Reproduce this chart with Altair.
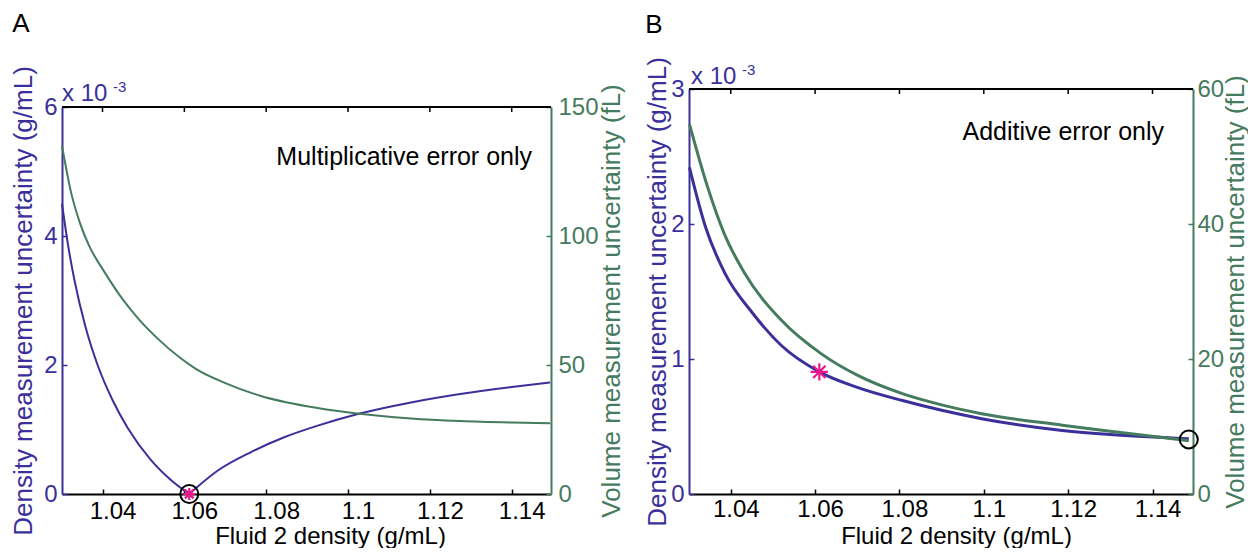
import altair as alt
import pandas as pd

BLUE = "#3b309b"
GREEN = "#457b5e"
PINK = "#e8178a"
FONT = "Liberation Sans"

X_DOMAIN = [1.0301, 1.1496]
X_TICKS = [1.04, 1.06, 1.08, 1.10, 1.12, 1.14]

# ---------------- Panel A : multiplicative error only ----------------
A_blue_x = [1.0301, 1.0316, 1.0331, 1.0358, 1.0388, 1.0425, 1.0462, 1.0518, 1.0565, 1.0612,
            1.0612, 1.0681, 1.0763, 1.0844, 1.0926, 1.1024, 1.1154, 1.1274, 1.14, 1.1494]
A_blue_y = [4.5, 3.85, 3.33, 2.6, 2.0, 1.45, 1.02, 0.53, 0.23, 0.0,
            0.0, 0.36, 0.65, 0.88, 1.06, 1.24, 1.42, 1.55, 1.66, 1.73]   # x 10^-3 g/mL
A_blue_branch = ["l"] * 10 + ["r"] * 10
A_green_x = [1.0301, 1.0323, 1.0345, 1.0368, 1.0405, 1.0449, 1.0490, 1.0531, 1.0592,
             1.0628, 1.07, 1.0787, 1.09, 1.1007, 1.1154, 1.1274, 1.14, 1.1494]
A_green_y = [135, 117, 105, 96, 86, 75.5, 67.5, 60.8, 52.5,
             48.5, 43, 38, 34, 31.5, 29.3, 28.3, 27.7, 27.4]             # fL
A_left_ticks = [0, 2, 4, 6]
A_right_ticks = [0, 50, 100, 150]
A_circle_x, A_circle_y = [1.0612], [0.0]
A_star_x, A_star_y = [1.0612], [0.0]

# ---------------- Panel B : additive error only ----------------
B_blue_x = [1.0302, 1.034, 1.0386, 1.0452, 1.052, 1.061, 1.07, 1.0805,
            1.09, 1.0995, 1.1186, 1.13, 1.1486]
B_blue_y = [2.42, 1.98, 1.636, 1.339, 1.10, 0.905, 0.79, 0.694,
            0.62, 0.558, 0.471, 0.44, 0.409]
B_blue_branch = ["l"] * 13
B_green_x = [1.0302, 1.0345, 1.0385, 1.0433, 1.0519, 1.0614, 1.07, 1.0805,
             1.09, 1.0995, 1.1186, 1.13, 1.1486]
B_green_y = [54.8, 45.5, 38.5, 32.7, 25.8, 20.8, 17.6, 14.9, 13.2, 11.9, 10.2, 9.3, 7.9]
B_left_ticks = [0, 1, 2, 3]
B_right_ticks = [0, 20, 40, 60]
B_circle_x, B_circle_y = [1.1486], [0.404]
B_star_x, B_star_y = [1.061], [0.905]

STAR = "M-1,0L1,0M0,-1L0,1M-0.71,-0.71L0.71,0.71M-0.71,0.71L0.71,-0.71"
INWARD = alt.ExprRef(expr="-5")


def text_layer(txt, x, y, size, color="black", align="left"):
    return alt.Chart(pd.DataFrame({"t": [txt]})).mark_text(
        align=align, baseline="middle", font=FONT, fontSize=size, color=color
    ).encode(text="t:N", x=alt.value(x), y=alt.value(y))


def panel(c):
    W, H, top = c["W"], c["H"], c["top"]
    xs = alt.Scale(domain=X_DOMAIN, nice=False, zero=False)

    def yl():
        return alt.Scale(domain=[0, c["lmax"]], nice=False, zero=False, range=[H, top])

    yr = alt.Scale(domain=[0, c["rmax"]], nice=False, zero=False, range=[H, top])

    xaxis = alt.Axis(orient="bottom", values=X_TICKS, format=".2~f", ticks=True,
                     tickSize=INWARD, tickColor="black", tickWidth=1.5, grid=False,
                     domainColor="black", domainWidth=2, labelColor="black", labelFont=FONT,
                     labelFontSize=24, labelPadding=c["xlabpad"], labelOffset=c["xlabdx"],
                     labelFlush=False, labelOverlap=False,
                     title="Fluid 2 density (g/mL)", titleFont=FONT, titleFontSize=24,
                     titleFontWeight="normal", titleColor="black", titleX=c["xtitleX"], titleY=42,
                     titleAlign="center", titleBaseline="middle")
    laxis = alt.Axis(orient="left", values=c["lticks"], format="d", ticks=True,
                     tickSize=INWARD, tickColor=BLUE, tickWidth=1.5, grid=False,
                     domainColor=BLUE, domainWidth=2, labelColor=BLUE, labelFont=FONT,
                     labelFontSize=24, labelPadding=10, labelFlush=False, labelOverlap=False,
                     title="Density measurement uncertainty (g/mL)", titleFont=FONT,
                     titleFontSize=26, titleFontWeight="normal", titleColor=BLUE, titleAngle=270,
                     titleX=c["ltitleX"], titleY=(H + top) / 2, titleAlign="center",
                     titleBaseline="middle")
    raxis = alt.Axis(orient="right", values=c["rticks"], format="d", ticks=True,
                     tickSize=INWARD, tickColor=GREEN, tickWidth=1.5, grid=False,
                     domainColor=GREEN, domainWidth=2, labelColor=GREEN, labelFont=FONT,
                     labelFontSize=24, labelPadding=c["rlabpad"] + 5, labelFlush=False,
                     labelOverlap=False,
                     title="Volume measurement uncertainty (fL)", titleFont=FONT,
                     titleFontSize=26, titleFontWeight="normal", titleColor=GREEN, titleAngle=270,
                     titleX=c["rtitleX"], titleY=(H + top) / 2, titleAlign="center",
                     titleBaseline="middle")

    blue = alt.Chart(pd.DataFrame({"x": c["bx"], "y": c["by"], "b": c["bb"]})).mark_line(
        color=BLUE, strokeWidth=c["sw"], interpolate="monotone").encode(
        x=alt.X("x:Q", scale=xs, axis=xaxis), y=alt.Y("y:Q", scale=yl(), axis=laxis),
        detail="b:N")

    # top edge of the box, drawn on the data scales
    frame = alt.Chart(pd.DataFrame({"x": X_DOMAIN, "y": [c["lmax"], c["lmax"]]})).mark_line(
        color="black", strokeWidth=2).encode(x="x:Q", y="y:Q")
    # short inward ticks hanging from the top edge
    d = c["lmax"] * 5.0 / (H - top)
    tx, ty, tg = [], [], []
    for i, t in enumerate(X_TICKS):
        tx += [t, t]
        ty += [c["lmax"], c["lmax"] - d]
        tg += [i, i]
    topticks = alt.Chart(pd.DataFrame({"x": tx, "y": ty, "g": tg})).mark_line(
        color="black", strokeWidth=1.5).encode(x="x:Q", y="y:Q", detail="g:N")

    left = alt.layer(
        blue, frame, topticks,
        text_layer(c["letter"], c["letter_x"], c["letter_y"], 26, align="center"),
        text_layer("x 10", c["exp_x"], c["exp_y"], 24, color=BLUE),
        text_layer("-3", c["exp_x"] + 51, c["exp_y"] - 7, 15, color=BLUE),
        text_layer(c["note"], c["note_x"], c["note_y"], 25, align="right"),
    )

    right = alt.Chart(pd.DataFrame({"x": c["gx"], "y": c["gy"]})).mark_line(
        color=GREEN, strokeWidth=c["sw"], interpolate="monotone").encode(
        x="x:Q", y=alt.Y("y:Q", scale=yr, axis=raxis))

    star = alt.Chart(pd.DataFrame({"x": c["sx"], "y": c["sy"]})).mark_point(
        shape=STAR, size=c["star_size"], filled=False, stroke=PINK, strokeWidth=2.2,
        opacity=1).encode(x="x:Q", y=alt.Y("y:Q", scale=yl(), axis=None))
    circ = alt.Chart(pd.DataFrame({"x": c["cx"], "y": c["cy"]})).mark_point(
        shape="circle", size=324, filled=False, stroke="black", strokeWidth=2,
        opacity=1).encode(x="x:Q", y="y:Q")
    marks = alt.layer(star, circ)

    return alt.layer(left, right, marks).resolve_scale(y="independent").properties(
        width=W, height=H)


cfgA = dict(W=489, H=405, top=18, lmax=6, rmax=150, lticks=A_left_ticks, rticks=A_right_ticks,
            bx=A_blue_x, by=A_blue_y, bb=A_blue_branch, gx=A_green_x, gy=A_green_y, sw=2,
            sx=A_star_x, sy=A_star_y, cx=A_circle_x, cy=A_circle_y, star_size=150,
            xlabpad=10, xlabdx=10, xtitleX=268, ltitleX=-39, rtitleX=60, rlabpad=7,
            letter="A", letter_x=-41, letter_y=-65, exp_x=0, exp_y=5,
            note="Multiplicative error only", note_x=470, note_y=68)
cfgB = dict(W=504, H=405, top=0, lmax=3, rmax=60, lticks=B_left_ticks, rticks=B_right_ticks,
            bx=B_blue_x, by=B_blue_y, bb=B_blue_branch, gx=B_green_x, gy=B_green_y, sw=3,
            sx=B_star_x, sy=B_star_y, cx=B_circle_x, cy=B_circle_y, star_size=300,
            xlabpad=8, xlabdx=5, xtitleX=267, ltitleX=-32, rtitleX=42, rlabpad=4,
            letter="B", letter_x=-35, letter_y=-64, exp_x=2, exp_y=-12,
            note="Additive error only", note_x=475, note_y=43)

chart = alt.hconcat(panel(cfgA), panel(cfgB), spacing=138, bounds="flush").properties(
    padding={"left": 1, "top": 3, "right": 0, "bottom": 0}
).configure_view(stroke=None)

chart.save("out.html", embed_options={"renderer": "svg", "actions": False})
